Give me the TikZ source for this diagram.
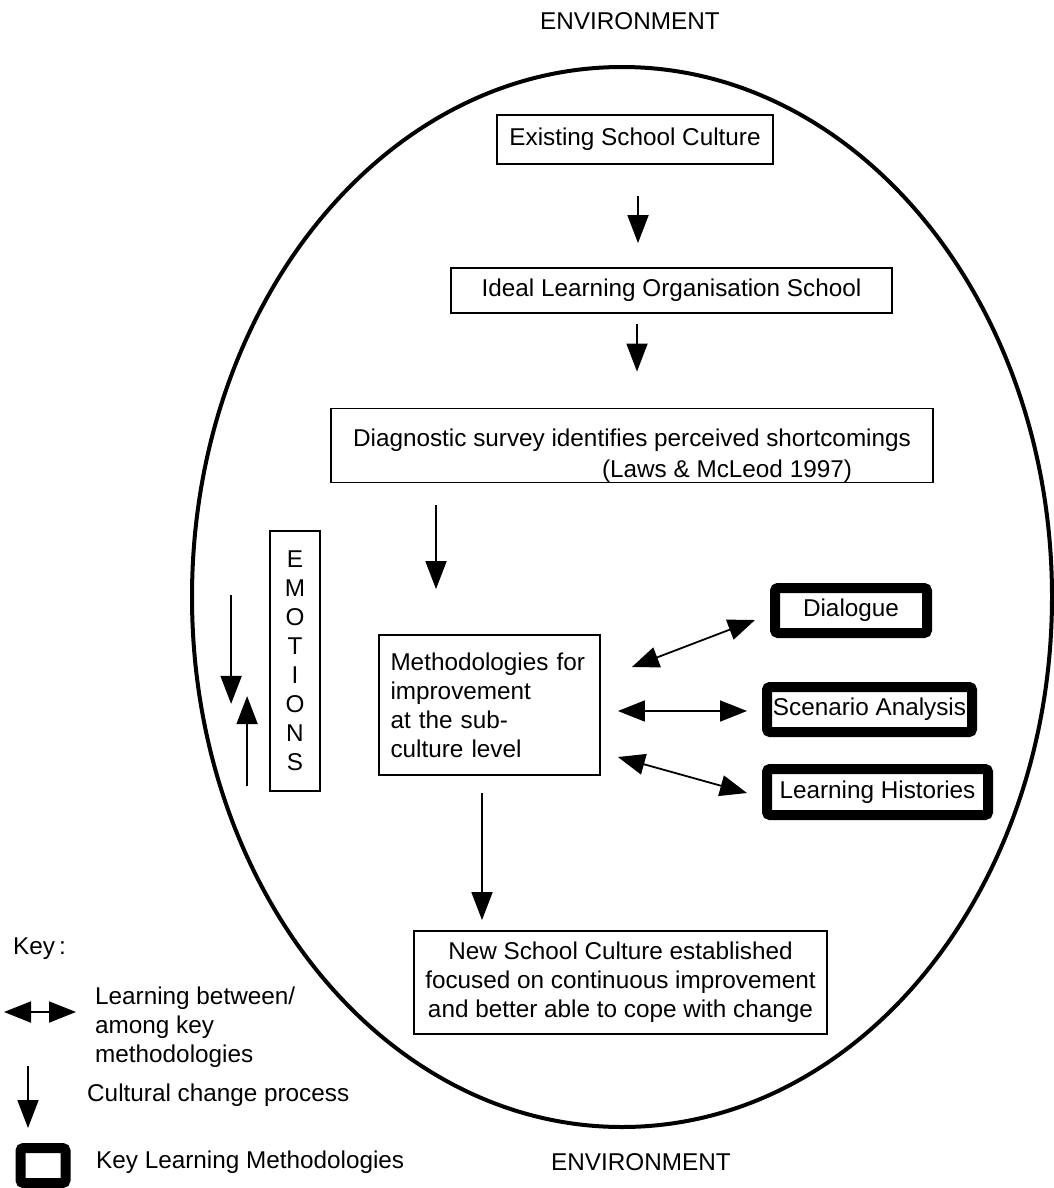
\documentclass[tikz,border=0pt]{standalone}
\usepackage{fontspec}
\setmainfont{Liberation Sans}
\usepackage{tikz}
\usetikzlibrary{arrows.meta}
\tikzset{
  txt/.style={inner sep=0pt, font=\fontsize{24.3}{29}\selectfont},
  box/.style={txt, rectangle, draw, line width=1.8pt, align=center},
  keybox/.style={txt, rectangle, draw, line width=10pt, rounded corners=3pt, align=center},
  flow/.style={-{Triangle[length=28pt,width=21pt]}, line width=1.8pt},
  learn/.style={{Triangle[length=27pt,width=21pt]}-{Triangle[length=27pt,width=21pt]}, line width=1.8pt},
}

\begin{document}
\begin{tikzpicture}[x=1pt,y=-1pt]
  \useasboundingbox (0,0) rectangle (1054,1188);
  \draw[line width=4pt] (622,597) ellipse [x radius=430, y radius=530];

  \node[txt] (envT) at (630,21) {ENVIRONMENT};
  \node[txt] (envB) at (641,1162) {ENVIRONMENT};

  \node[box, minimum width=276, minimum height=49] (exist) at (635,139.5) {Existing School Culture};
  \node[box, minimum width=441, minimum height=45] (ideal) at (671.5,290.5) {Ideal Learning Organisation School};
  \node[box, minimum width=602, minimum height=73] (diag) at (632,445.5)
       {\rule{0pt}{38pt}Diagnostic survey identifies perceived shortcomings\\[2pt]\hspace*{190pt}(Laws \& McLeod 1997)};
  \node[box, minimum width=221, minimum height=140, align=left, text width=198] (meth) at (489.5,705)
       {Methodologies for\\improvement\\at the sub-\\culture level};
  \node[box, minimum width=50, minimum height=260] (emo) at (295,661) {E\\M\\O\\T\\I\\O\\N\\S};
  \node[keybox, minimum width=152, minimum height=45] (dial) at (851,610.5) {Dialogue};
  \node[keybox, minimum width=205, minimum height=45] (scen) at (869.5,709.5) {Scenario Analysis};
  \node[keybox, minimum width=221, minimum height=46] (hist) at (877.5,792) {Learning Histories};
  \node[box, minimum width=413, minimum height=103] (newc) at (620.5,982.5)
       {New School Culture established\\focused on continuous improvement\\and better able to cope with change};

  \coordinate (a1) at ([shift={(3,0)}]exist.south);
  \coordinate (a2) at ([shift={(2,0)}]exist.south |- ideal.south);
  \coordinate (a3) at ([shift={(-53.5,0)}]meth.north |- diag.south);
  \coordinate (a4) at ([shift={(-7.5,0)}]meth.south);
  \draw[flow, shorten <=31pt, shorten >=24pt] (a1) -- (a1 |- ideal.north);
  \draw[flow, shorten <=10pt, shorten >=36pt] (a2) -- (a2 |- diag.north);
  \draw[flow, shorten <=22pt, shorten >=45pt] (a3) -- (a3 |- meth.north);
  \draw[flow, shorten <=17pt, shorten >=10pt] (a4) -- (a4 |- newc.north);

  \draw[learn] ([shift={(31,-38)}]meth.east) -- ([shift={(-15,9.5)}]dial.west);
  \draw[learn] ([shift={(17,6)}]meth.east) -- ([shift={(-15,1.5)}]scen.west);
  \draw[learn] ([shift={(17,52)}]meth.east) -- ([shift={(-15,1)}]hist.west);

  \draw[flow] ([shift={(-38,65)}]emo.north west) -- ([shift={(-38,-88)}]emo.south west);
  \draw[flow] ([shift={(-22,-6)}]emo.south west) -- ([shift={(-22,166)}]emo.north west);

  \node[txt, anchor=west] (key) at (13,949) {Key\,:};
  \coordinate (k1a) at (4,1012);
  \coordinate (k1b) at (76,1012);
  \draw[learn] (k1a) -- (k1b);
  \node[txt, anchor=west, align=left] (kl1) at (95,1027) {Learning between/\\among key\\methodologies};
  \coordinate (k2a) at (28,1066);
  \coordinate (k2b) at (28,1128);
  \draw[flow] (k2a) -- (k2b);
  \node[txt, anchor=west] (kl2) at (87,1095) {Cultural change process};
  \node[keybox, minimum width=45, minimum height=35] (kbox) at (43,1165.5) {};
  \node[txt, anchor=west] (kl3) at (96,1162) {Key Learning Methodologies};
\end{tikzpicture}
\end{document}
